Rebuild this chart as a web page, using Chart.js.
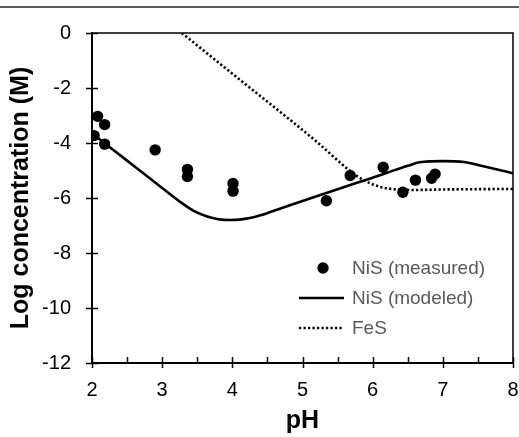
<!DOCTYPE html>
<html>
<head>
<meta charset="utf-8">
<script src="https://cdn.jsdelivr.net/npm/chart.js@4.4.1/dist/chart.umd.min.js"></script>
<style>
  html, body { margin: 0; padding: 0; background: #fff; }
  #wrap { position: relative; width: 519px; height: 437px; }
</style>
</head>
<body>
<div id="wrap"><canvas id="c" width="519" height="437"></canvas></div>
<script>
// ---- data ----
const measuredPH   = [2.03, 2.08, 2.18, 2.18, 2.90, 3.36, 3.36, 4.01, 4.01, 5.34, 5.68, 6.15, 6.43, 6.61, 6.84, 6.89];
const measuredLogC = [-3.73, -3.03, -3.33, -4.04, -4.25, -4.96, -5.22, -5.47, -5.75, -6.10, -5.18, -4.88, -5.79, -5.35, -5.28, -5.13];

const modeledPH   = [2.0, 2.5, 3.0, 3.25, 3.45, 3.63, 3.8, 3.97, 4.1, 4.25, 4.4, 4.54, 4.82, 5.5, 6.0, 6.5, 6.67, 7.0, 7.3, 7.5, 8.0];
const modeledLogC = [-3.65, -4.64, -5.64, -6.13, -6.47, -6.66, -6.77, -6.80, -6.785, -6.73, -6.63, -6.51, -6.26, -5.68, -5.26, -4.83, -4.70, -4.66, -4.69, -4.80, -5.10];

const fesPH   = [3.28, 4.0, 5.2, 5.67, 5.85, 6.1, 6.3, 6.53, 7.0, 8.0];
const fesLogC = [0, -1.48, -3.95, -5.0, -5.32, -5.59, -5.68, -5.71, -5.69, -5.67];

const xTicks = [2, 3, 4, 5, 6, 7, 8];
const yTicks = [0, -2, -4, -6, -8, -10, -12];
const seriesLabels = ['NiS (measured)', 'NiS (modeled)', 'FeS'];

const toXY = (xs, ys) => xs.map((x, i) => ({x: x, y: ys[i]}));

const FONT = '"Liberation Sans", Arial, sans-serif';

const decor = {
  id: 'decor',
  afterDraw(chart) {
    const {ctx, chartArea: a, scales: {x, y}} = chart;
    ctx.save();
    // figure top rule
    ctx.strokeStyle = '#222';
    ctx.lineWidth = 1.5;
    ctx.beginPath(); ctx.moveTo(0, 7); ctx.lineTo(chart.width, 7); ctx.stroke();
    // frame top/right
    ctx.strokeStyle = '#000';
    ctx.lineWidth = 1.5;
    ctx.beginPath();
    ctx.moveTo(a.left, a.top); ctx.lineTo(a.right, a.top); ctx.lineTo(a.right, a.bottom);
    ctx.stroke();
    // y ticks (cross)
    ctx.lineWidth = 1.5;
    yTicks.forEach(v => {
      const py = Math.round(y.getPixelForValue(v)) + 0.5;
      ctx.beginPath(); ctx.moveTo(a.left - 6, py); ctx.lineTo(a.left + 6, py); ctx.stroke();
    });
    // x ticks: major cross, minor inside
    xTicks.forEach(v => {
      const px = Math.round(x.getPixelForValue(v)) + 0.5;
      ctx.beginPath(); ctx.moveTo(px, a.bottom - 6); ctx.lineTo(px, a.bottom + 5); ctx.stroke();
      if (v < 8) {
        const pm = Math.round(x.getPixelForValue(v + 0.5)) + 0.5;
        ctx.beginPath(); ctx.moveTo(pm, a.bottom - 6); ctx.lineTo(pm, a.bottom); ctx.stroke();
      }
    });
    // legend
    const ds = chart.data.datasets;
    const textX = 352, lineX0 = 299, lineX1 = 344;
    const rows = [268, 298, 328];
    ctx.font = '19px ' + FONT;
    ctx.textBaseline = 'middle';
    ctx.textAlign = 'left';
    rows.forEach((ry, i) => {
      const d = ds[i];
      if (i === 0) {
        ctx.fillStyle = d.backgroundColor;
        ctx.beginPath(); ctx.arc(323, ry, d.pointRadius, 0, Math.PI * 2); ctx.fill();
      } else {
        ctx.strokeStyle = d.borderColor;
        ctx.lineWidth = d.borderWidth;
        ctx.setLineDash(d.borderDash || []);
        ctx.beginPath(); ctx.moveTo(lineX0, ry); ctx.lineTo(lineX1, ry); ctx.stroke();
        ctx.setLineDash([]);
      }
      ctx.fillStyle = '#595959';
      ctx.fillText(d.label, textX, ry + 1);
    });
    ctx.restore();
  }
};

new Chart(document.getElementById('c'), {
  type: 'scatter',
  data: {
    datasets: [
      {
        label: seriesLabels[0],
        data: toXY(measuredPH, measuredLogC),
        showLine: false,
        pointRadius: 5.7,
        pointBackgroundColor: '#000',
        backgroundColor: '#000',
        borderColor: '#000',
        pointBorderWidth: 0,
        order: 0
      },
      {
        label: seriesLabels[1],
        data: toXY(modeledPH, modeledLogC),
        showLine: true,
        pointRadius: 0,
        borderColor: '#000',
        borderWidth: 2.6,
        cubicInterpolationMode: 'monotone',
        order: 1
      },
      {
        label: seriesLabels[2],
        data: toXY(fesPH, fesLogC),
        showLine: true,
        pointRadius: 0,
        borderColor: '#000',
        borderWidth: 2.6,
        borderDash: [2.2, 2.3],
        cubicInterpolationMode: 'monotone',
        order: 2
      }
    ]
  },
  options: {
    responsive: false,
    animation: false,
    devicePixelRatio: 1,
    layout: { padding: { left: 0, right: 6, top: 33, bottom: 0 } },
    plugins: { legend: { display: false }, tooltip: { enabled: false } },
    scales: {
      x: {
        type: 'linear', min: 2, max: 8,
        afterFit: s => { s.height = 74; s.paddingLeft = 0; s.paddingRight = 0; },
        afterBuildTicks: s => { s.ticks = xTicks.map(v => ({value: v})); },
        grid: { display: false, drawTicks: false },
        border: { display: true, color: '#000', width: 2 },
        ticks: { font: { family: FONT, size: 20 }, color: '#000', padding: 15, maxRotation: 0 },
        title: { display: true, text: 'pH', font: { family: FONT, size: 25, weight: 'bold' }, color: '#000', padding: { top: 0, bottom: 1 } }
      },
      y: {
        type: 'linear', min: -12, max: 0,
        afterFit: s => { s.width = 92; s.paddingTop = 0; s.paddingBottom = 0; },
        afterBuildTicks: s => { s.ticks = yTicks.map(v => ({value: v})); },
        grid: { display: false, drawTicks: false },
        border: { display: true, color: '#000', width: 2 },
        ticks: { font: { family: FONT, size: 20 }, color: '#000', padding: 21 },
        title: { display: true, text: 'Log concentration (M)', font: { family: FONT, size: 25, weight: 'bold' }, color: '#000', padding: { top: 6, bottom: 0 } }
      }
    }
  },
  plugins: [decor]
});
</script>
</body>
</html>
